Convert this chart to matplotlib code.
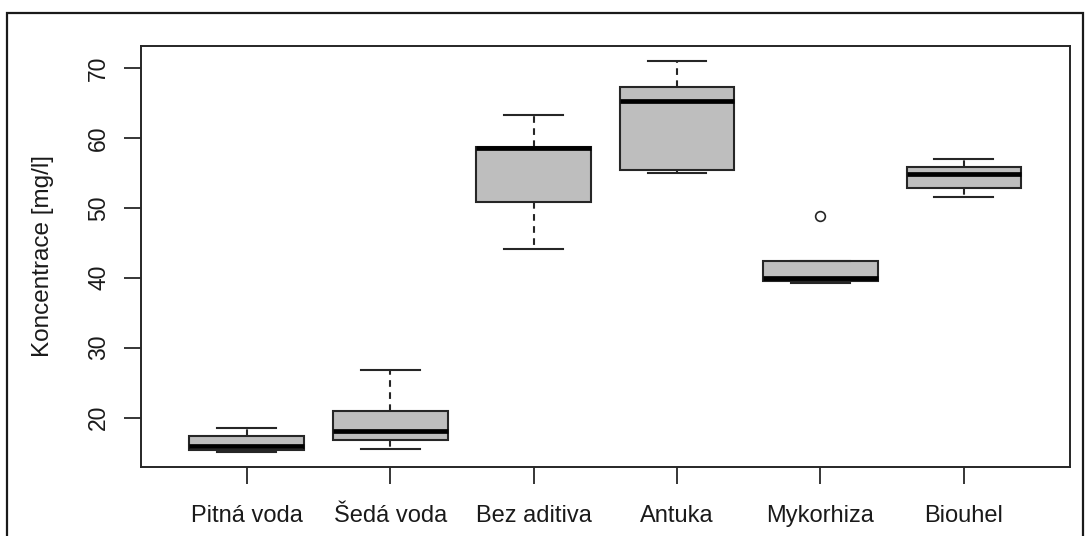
import matplotlib
matplotlib.use("Agg")
import matplotlib.pyplot as plt
from matplotlib.patches import Rectangle

categories = ["Pitná voda", "Šedá voda", "Bez aditiva", "Antuka", "Mykorhiza", "Biouhel"]
whisker_low = [15.13, 15.56, 44.16, 54.92, 39.18, 51.55]
q1_values = [15.33, 16.76, 50.90, 55.45, 39.60, 52.83]
medians = [15.97, 18.08, 58.50, 65.30, 39.94, 54.78]
q3_values = [17.37, 20.97, 58.70, 67.30, 42.36, 55.87]
whisker_high = [18.55, 26.80, 63.31, 70.95, 42.36, 57.00]
outliers = [[], [], [], [], [48.85], []]
y_ticks = [20, 30, 40, 50, 60, 70]
y_label = "Koncentrace [mg/l]"

plt.rcParams['font.family'] = ['Liberation Sans', 'DejaVu Sans']

fig = plt.figure(figsize=(10.91, 5.36), dpi=100)
ax = fig.add_axes([140.7 / 1091, 68.7 / 536, (1070 - 140.7) / 1091, (467.3 - 45.7) / 536])

stats = []
for i in range(len(categories)):
    stats.append(dict(whislo=whisker_low[i], q1=q1_values[i], med=medians[i],
                      q3=q3_values[i], whishi=whisker_high[i], fliers=outliers[i],
                      label=categories[i]))

edge = '#262626'
ax.bxp(stats, positions=range(1, len(categories) + 1), widths=0.8, capwidths=0.41,
       patch_artist=True, showfliers=True,
       boxprops=dict(facecolor='#BEBEBE', edgecolor=edge, linewidth=1.5),
       medianprops=dict(color='black', linewidth=3.4, solid_capstyle='butt'),
       whiskerprops=dict(color=edge, linewidth=1.5, linestyle=(0, (3.2, 2.6))),
       capprops=dict(color=edge, linewidth=1.5),
       flierprops=dict(marker='o', markerfacecolor='none', markeredgecolor=edge,
                       markersize=7, markeredgewidth=1.2))

lo = min(whisker_low + [v for o in outliers for v in o])
hi = max(whisker_high + [v for o in outliers for v in o])
rng = hi - lo
ax.set_ylim(lo - 0.04 * rng, hi + 0.04 * rng)
ax.set_xlim(0.26, len(categories) + 0.74)

ax.set_yticks(y_ticks)
ax.set_yticklabels([str(t) for t in y_ticks], rotation=90, va='center', fontsize=16.5, color='#1a1a1a')
ax.set_xticks(range(1, len(categories) + 1))
ax.set_xticklabels(categories, fontsize=17, color='#1a1a1a')
ax.tick_params(axis='both', length=12, width=1.3, color=edge)
ax.tick_params(axis='y', pad=10)
ax.tick_params(axis='x', pad=15)
for s in ax.spines.values():
    s.set_color(edge)
    s.set_linewidth(1.4)

ax.set_ylabel(y_label, fontsize=17.5, color='#1a1a1a', labelpad=24)

frame = Rectangle((7 / 1091, -0.05), (1083 - 7) / 1091, 1 - 13 / 536 + 0.05,
                  transform=fig.transFigure, fill=False, edgecolor='#1a1a1a', linewidth=1.6)
fig.patches.append(frame)

fig.savefig("out.png", dpi=100)
